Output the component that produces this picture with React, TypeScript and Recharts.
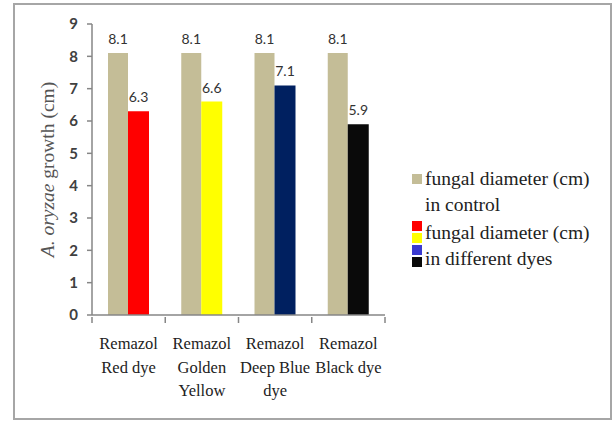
import React from "react";
import {
  BarChart,
  Bar,
  XAxis,
  YAxis,
  Cell,
  LabelList,
  Legend,
  Label,
} from "recharts";

const categories = [
  "Remazol\nRed dye",
  "Remazol\nGolden\nYellow",
  "Remazol\nDeep Blue\ndye",
  "Remazol\nBlack dye",
];
const controlValues = [8.1, 8.1, 8.1, 8.1];
const dyeValues = [6.3, 6.6, 7.1, 5.9];
const dyeColors = ["#FF0000", "#FFFF00", "#002060", "#0A0A0A"];
const legendDyeSwatches = ["#FF0000", "#FFFF00", "#3A3AD0", "#0A0A0A"];
const yTicks = [0, 1, 2, 3, 4, 5, 6, 7, 8, 9];

const data = categories.map((name, i) => ({
  name,
  control: controlValues[i],
  dye: dyeValues[i],
}));

const SERIF = "'Liberation Serif', 'Times New Roman', serif";
const SANS = "Lato, 'Open Sans', sans-serif";
const AXIS = "#868686";

const CategoryTick = (props: any) => {
  const { x, y, payload, index } = props;
  const half = payload.offset || 0;
  const lines = String(payload.value).split("\n");
  const last = index === categories.length - 1;
  return (
    <g>
      <line x1={x - half} x2={x - half} y1={y - 6} y2={y} stroke={AXIS} strokeWidth={1.5} />
      {last && (
        <line x1={x + half} x2={x + half} y1={y - 6} y2={y} stroke={AXIS} strokeWidth={1.5} />
      )}
      <text x={x} y={y} textAnchor="middle" fontFamily={SERIF} fontSize={16.5} fill="#222">
        {lines.map((line, i) => (
          <tspan key={i} x={x} dy={i === 0 ? 26 : 23.5}>
            {line}
          </tspan>
        ))}
      </text>
    </g>
  );
};

const YTitle = (props: any) => {
  const vb = props.viewBox || {};
  const cx = 47;
  const cy = vb.y + vb.height / 2;
  return (
    <text
      x={cx}
      y={cy}
      transform={`rotate(-90, ${cx}, ${cy})`}
      textAnchor="middle"
      dominantBaseline="central"
      fontFamily={SERIF}
      fontSize={19.5}
      fill="#555"
    >
      <tspan fontStyle="italic">A. oryzae</tspan>
      <tspan> growth (cm)</tspan>
    </text>
  );
};

const LegendBox = () => (
  <div style={{ fontFamily: SERIF, fontSize: 19.5, color: "#222", lineHeight: "26px" }}>
    <div style={{ display: "flex", alignItems: "flex-start" }}>
      <div
        style={{
          width: 10,
          height: 10,
          background: "#C4BD97",
          marginTop: 8,
          marginRight: 3,
        }}
      />
      <div>
        fungal diameter (cm)
        <br />
        in control
      </div>
    </div>
    <div style={{ display: "flex", alignItems: "flex-start", marginTop: 2 }}>
      <div style={{ marginTop: 1, marginRight: 3 }}>
        {legendDyeSwatches.map((c) => (
          <div key={c} style={{ width: 10, height: 10, background: c, marginBottom: 2 }} />
        ))}
      </div>
      <div>
        fungal diameter (cm)
        <br />
        in different dyes
      </div>
    </div>
  </div>
);

export default function App() {
  return (
    <div
      style={{
        position: "absolute",
        left: 0,
        top: 0,
        width: 613,
        height: 421,
        background: "#fff",
      }}
    >
      <div
        style={{
          position: "absolute",
          left: 13,
          top: 3,
          width: 595,
          height: 413,
          border: "2px solid #A6A6A6",
        }}
      />
      <div style={{ position: "absolute", left: 0, top: 0 }}>
        <BarChart
          width={613}
          height={421}
          data={data}
          margin={{ top: 24, right: 28, bottom: 26, left: 52 }}
          barGap={0}
        >
          <XAxis
            dataKey="name"
            interval={0}
            stroke={AXIS}
            strokeWidth={1.5}
            tickLine={false}
            tick={<CategoryTick />}
            height={80}
          />
          <YAxis
            domain={[0, 9]}
            ticks={yTicks}
            interval={0}
            width={40}
            tickSize={5}
            stroke={AXIS}
            strokeWidth={1.5}
            tick={{ fill: "#404040", fontSize: 15, fontFamily: SANS, fontWeight: 700, dx: -7 }}
          >
            <Label content={<YTitle />} />
          </YAxis>
          <Bar dataKey="control" fill="#C4BD97" barSize={20} isAnimationActive={false}>
            <LabelList
              dataKey="control"
              position="top"
              offset={9}
              fill="#333"
              fontSize={14}
              fontFamily={SANS}
            />
          </Bar>
          <Bar dataKey="dye" barSize={21} isAnimationActive={false}>
            {dyeValues.map((v, i) => (
              <Cell key={`dye-${i}`} fill={dyeColors[i]} />
            ))}
            <LabelList
              dataKey="dye"
              position="top"
              offset={9}
              fill="#333"
              fontSize={14}
              fontFamily={SANS}
            />
          </Bar>
          <Legend
            layout="horizontal"
            verticalAlign="middle"
            align="right"
            content={<LegendBox />}
            wrapperStyle={{ left: 412, right: "auto", top: 166, width: 200 }}
          />
        </BarChart>
      </div>
    </div>
  );
}
